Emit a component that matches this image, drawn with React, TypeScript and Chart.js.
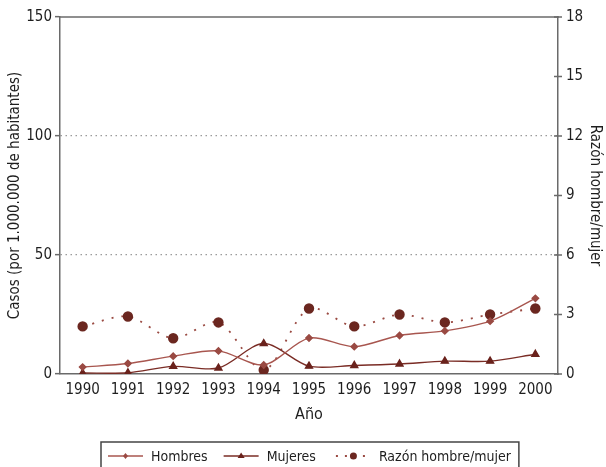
import React, { useEffect, useRef } from 'react';
import { Chart, registerables } from 'chart.js';

Chart.register(...registerables);

const years = ['1990', '1991', '1992', '1993', '1994', '1995', '1996', '1997', '1998', '1999', '2000'];
const hombres = [2.9, 4.4, 7.5, 9.7, 3.8, 15.1, 11.5, 16.2, 18.1, 22.2, 31.8];
const mujeres = [0.4, 0.5, 3.2, 2.5, 12.8, 3.3, 3.6, 4.2, 5.4, 5.4, 8.3];
const razon = [2.4, 2.9, 1.8, 2.6, 0.2, 3.3, 2.4, 3.0, 2.6, 3.0, 3.3];
const rightTicks = [0, 3, 6, 9, 12, 15, 18];
const legendLabels = ['Hombres', 'Mujeres', 'Razón hombre/mujer'];

const FONT = "'DejaVu Sans Condensed', 'Liberation Sans Narrow', sans-serif";
const AXIS = '#6a6a6a';
const TEXT = '#1e1e1e';
const C_H = '#a8564f';
const C_HP = '#9a4a43';
const C_M = '#7a2c25';
const C_MP = '#6a221c';
const C_R = '#9a4a42';
const C_RP = '#6b2720';

function drawSymbol(ctx: CanvasRenderingContext2D, kind: number, x0: number, x1: number, y: number) {
  ctx.save();
  const cx = (x0 + x1) / 2;
  if (kind === 0) {
    ctx.strokeStyle = C_H; ctx.lineWidth = 1.3; ctx.setLineDash([]);
    ctx.beginPath(); ctx.moveTo(x0, y); ctx.lineTo(x1, y); ctx.stroke();
    ctx.fillStyle = C_HP;
    ctx.beginPath(); ctx.moveTo(cx, y - 3); ctx.lineTo(cx + 2.5, y); ctx.lineTo(cx, y + 3); ctx.lineTo(cx - 2.5, y); ctx.closePath(); ctx.fill();
  } else if (kind === 1) {
    ctx.strokeStyle = C_M; ctx.lineWidth = 1.3; ctx.setLineDash([]);
    ctx.beginPath(); ctx.moveTo(x0, y); ctx.lineTo(x1, y); ctx.stroke();
    ctx.fillStyle = C_MP;
    ctx.beginPath(); ctx.moveTo(cx, y - 3.5); ctx.lineTo(cx + 3.5, y + 2); ctx.lineTo(cx - 3.5, y + 2); ctx.closePath(); ctx.fill();
  } else {
    ctx.strokeStyle = C_R; ctx.lineWidth = 1.8; ctx.setLineDash([2, 7]);
    ctx.beginPath(); ctx.moveTo(x0, y); ctx.lineTo(x1, y); ctx.stroke();
    ctx.fillStyle = C_RP;
    ctx.beginPath(); ctx.arc(cx, y, 3.5, 0, Math.PI * 2); ctx.fill();
  }
  ctx.restore();
}

const decorPlugin = {
  id: 'decor',
  afterDraw(chart: any) {
    const ctx: CanvasRenderingContext2D = chart.ctx;
    const area = chart.chartArea;
    const y1 = chart.scales.y1;
    ctx.save();
    ctx.strokeStyle = AXIS;
    ctx.lineWidth = 1.5;
    ctx.beginPath();
    ctx.moveTo(area.left - 0.75, area.top);
    ctx.lineTo(area.right + 0.75, area.top);
    ctx.stroke();
    ctx.beginPath();
    rightTicks.forEach((v) => {
      const y = y1.getPixelForValue(v);
      ctx.moveTo(area.right - 4, y);
      ctx.lineTo(area.right + 4, y);
    });
    ctx.stroke();

    // legend
    ctx.font = `14px ${FONT}`;
    ctx.textBaseline = 'middle';
    ctx.textAlign = 'left';
    ctx.fillStyle = TEXT;
    const ly = 456;
    let x = 101;
    const left = x;
    x += 7;
    const gapsAfter = [16, 20, 0];
    legendLabels.forEach((lab, i) => {
      drawSymbol(ctx, i, x, x + 35, ly);
      x += 35 + 8;
      ctx.fillStyle = TEXT;
      ctx.fillText(lab, x, ly + 1);
      x += ctx.measureText(lab).width + gapsAfter[i];
    });
    const right = x + 8;
    ctx.strokeStyle = '#444';
    ctx.lineWidth = 1.5;
    ctx.setLineDash([]);
    ctx.strokeRect(left, 442, right - left, 30);
    ctx.restore();
  },
};

export default function App() {
  const ref = useRef<HTMLCanvasElement | null>(null);
  useEffect(() => {
    if (!ref.current) return;
    const chart = new Chart(ref.current, {
      type: 'line',
      data: {
        labels: years,
        datasets: [
          {
            label: legendLabels[0], data: hombres, yAxisID: 'y',
            borderColor: C_H, borderWidth: 1.4, tension: 0.3,
            pointStyle: 'rectRot', pointRadius: 3.2, pointBackgroundColor: C_HP, pointBorderColor: C_HP,
          },
          {
            label: legendLabels[1], data: mujeres, yAxisID: 'y',
            borderColor: C_M, borderWidth: 1.4, tension: 0.3,
            pointStyle: 'triangle', pointRadius: 4, pointBackgroundColor: C_MP, pointBorderColor: C_MP,
          },
          {
            label: legendLabels[2], data: razon, yAxisID: 'y1',
            borderColor: C_R, borderWidth: 1.8, borderDash: [2, 8], tension: 0.3,
            pointStyle: 'circle', pointRadius: 4.3, pointBackgroundColor: C_RP, pointBorderColor: C_RP,
          },
        ],
      },
      options: {
        responsive: false,
        animation: false,
        devicePixelRatio: 1,
        layout: { padding: { top: 16, left: 0, right: 0, bottom: 35 } },
        plugins: { legend: { display: false }, tooltip: { enabled: false } },
        scales: {
          x: {
            offset: true,
            grid: { display: false, drawTicks: false },
            border: { color: AXIS, width: 1.5 },
            ticks: { color: TEXT, font: { family: FONT, size: 15 }, padding: 7, maxRotation: 0, autoSkip: false },
            title: { display: true, text: 'Año', color: TEXT, font: { family: FONT, size: 16 }, padding: { top: 4, bottom: 8 } },
            afterFit: (s: any) => { s.height = 58; },
          },
          y: {
            position: 'left',
            min: 0, max: 150,
            ticks: { stepSize: 50, color: TEXT, font: { family: FONT, size: 15 }, padding: 3 },
            grid: {
              color: (c: any) => (c.tick && (c.tick.value === 50 || c.tick.value === 100) ? '#9a9a9a' : 'rgba(0,0,0,0)'),
              tickColor: AXIS, tickLength: 5, tickWidth: 1.5, lineWidth: 1.3,
            },
            border: { color: AXIS, width: 1.5, dash: [1.5, 3.5] },
            title: { display: true, text: 'Casos (por 1.000.000 de habitantes)', color: TEXT, font: { family: FONT, size: 15 }, padding: { top: 6, bottom: 0 } },
            afterFit: (s: any) => { s.width = 60; },
          },
          y1: {
            position: 'right',
            min: 0, max: 18,
            ticks: { stepSize: 3, color: TEXT, font: { family: FONT, size: 15 }, padding: 8 },
            grid: { display: false, drawOnChartArea: false, drawTicks: false },
            border: { color: AXIS, width: 1.5 },
            title: { display: true, text: 'Razón hombre/mujer', color: TEXT, font: { family: FONT, size: 15 }, padding: { top: 2, bottom: 0 } },
            afterFit: (s: any) => { s.width = 48; },
          },
        },
      },
      plugins: [decorPlugin],
    });
    return () => chart.destroy();
  }, []);
  return (
    <div style={{ position: 'absolute', left: 0, top: 0, width: 606, height: 467, background: '#fff' }}>
      <canvas ref={ref} width={606} height={467} style={{ display: 'block' }} />
    </div>
  );
}
